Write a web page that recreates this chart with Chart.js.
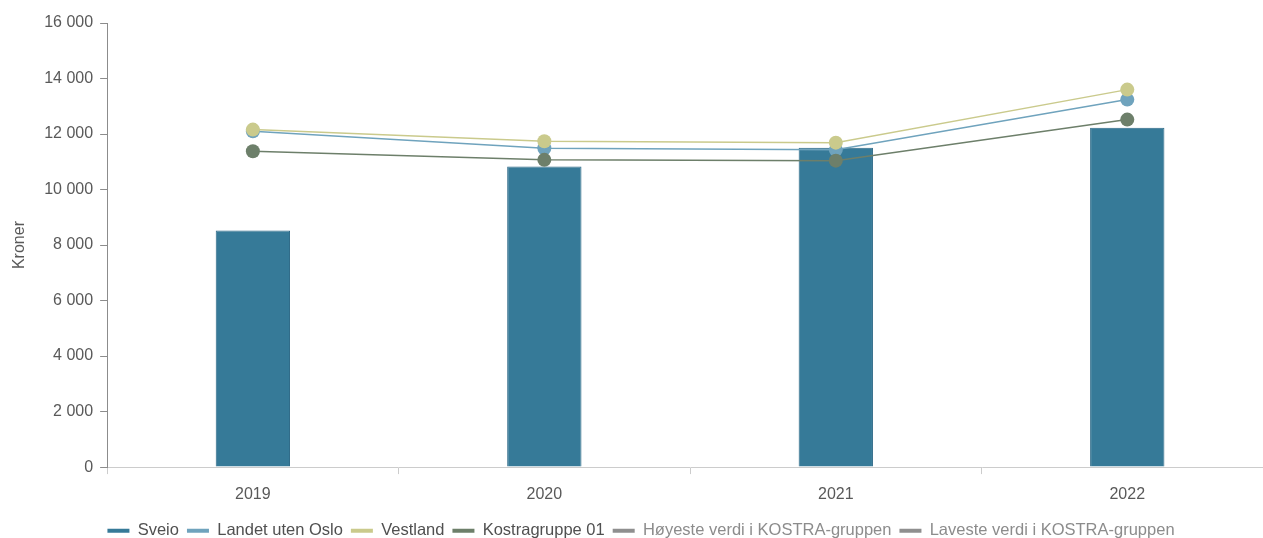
<!DOCTYPE html>
<html>
<head>
<meta charset="utf-8">
<script src="https://cdn.jsdelivr.net/npm/chart.js@4"></script>
<style>
    html, body { margin: 0; padding: 0; background: #fff; overflow: hidden; }
    #wrap { width: 1282px; height: 549px; }
</style>
</head>
<body>
<div id="wrap"><canvas id="chart" width="1282" height="549"></canvas></div>
<script>
const years = ['2019', '2020', '2021', '2022'];
const sveio = [8520, 10830, 11510, 12230];
const landetUtenOslo = [12100, 11490, 11430, 13240];
const vestland = [12160, 11740, 11690, 13600];
const kostragruppe01 = [11380, 11070, 11040, 12520];
const hoyeste = [null, null, null, null];
const laveste = [null, null, null, null];
const yTicks = [0, 2000, 4000, 6000, 8000, 10000, 12000, 14000, 16000];

const font = "Arial, 'Liberation Sans', sans-serif";
const fmt = v => String(v).replace(/\B(?=(\d{3})+(?!\d))/g, ' ');

function lineSet(label, data, color, order) {
    return {
        type: 'line',
        label: label,
        data: data,
        borderColor: color,
        backgroundColor: color,
        borderWidth: 1.5,
        pointRadius: 7,
        pointHoverRadius: 7,
        pointBorderWidth: 0,
        tension: 0,
        order: order
    };
}

new Chart(document.getElementById('chart'), {
    type: 'bar',
    data: {
        labels: years,
        datasets: [
            {
                label: 'Sveio',
                data: sveio,
                backgroundColor: '#367a98',
                borderColor: '#2c6886',
                borderWidth: 1,
                categoryPercentage: 1,
                barPercentage: 0.255,
                order: 10
            },
            lineSet('Landet uten Oslo', landetUtenOslo, '#6fa3bd', 3),
            lineSet('Vestland', vestland, '#caca8c', 2),
            lineSet('Kostragruppe 01', kostragruppe01, '#6d7f6a', 1),
            lineSet('Høyeste verdi i KOSTRA-gruppen', hoyeste, '#8f8f8f', 5),
            lineSet('Laveste verdi i KOSTRA-gruppen', laveste, '#8f8f8f', 6)
        ]
    },
    options: {
        responsive: false,
        animation: false,
        layout: { padding: { top: 23, right: 9, left: 9, bottom: 0 } },
        plugins: {
            tooltip: { enabled: false },
            legend: {
                position: 'bottom',
                labels: {
                    font: { family: font, size: 16.5 },
                    boxWidth: 22,
                    boxHeight: 4,
                    padding: 8,
                    generateLabels: chart => chart.data.datasets.map((ds, i) => ({
                        text: ds.label,
                        fillStyle: ds.type === 'line' ? ds.borderColor : ds.backgroundColor,
                        strokeStyle: 'transparent',
                        lineWidth: 0,
                        fontColor: i >= 4 ? '#8c8c8c' : '#505050',
                        datasetIndex: i,
                        hidden: false
                    }))
                }
            }
        },
        scales: {
            x: {
                offset: true,
                grid: {
                    offset: true,
                    drawOnChartArea: false,
                    tickLength: 7,
                    color: '#cccccc'
                },
                border: { color: '#cccccc', width: 1 },
                ticks: { color: '#595959', font: { family: font, size: 16, lineHeight: 0.9 }, padding: 13 }
            },
            y: {
                min: 0,
                max: 16000,
                afterBuildTicks: axis => { axis.ticks = yTicks.map(v => ({ value: v })); },
                grid: {
                    drawOnChartArea: false,
                    tickLength: 7,
                    color: '#8c8c8c'
                },
                border: { color: '#8c8c8c', width: 1 },
                title: {
                    display: true,
                    text: 'Kroner',
                    color: '#595959',
                    font: { family: font, size: 16 },
                    padding: { top: 1, bottom: 8 }
                },
                ticks: {
                    color: '#595959',
                    font: { family: font, size: 16 },
                    padding: 7,
                    callback: v => fmt(v)
                }
            }
        }
    }
});
</script>
</body>
</html>
